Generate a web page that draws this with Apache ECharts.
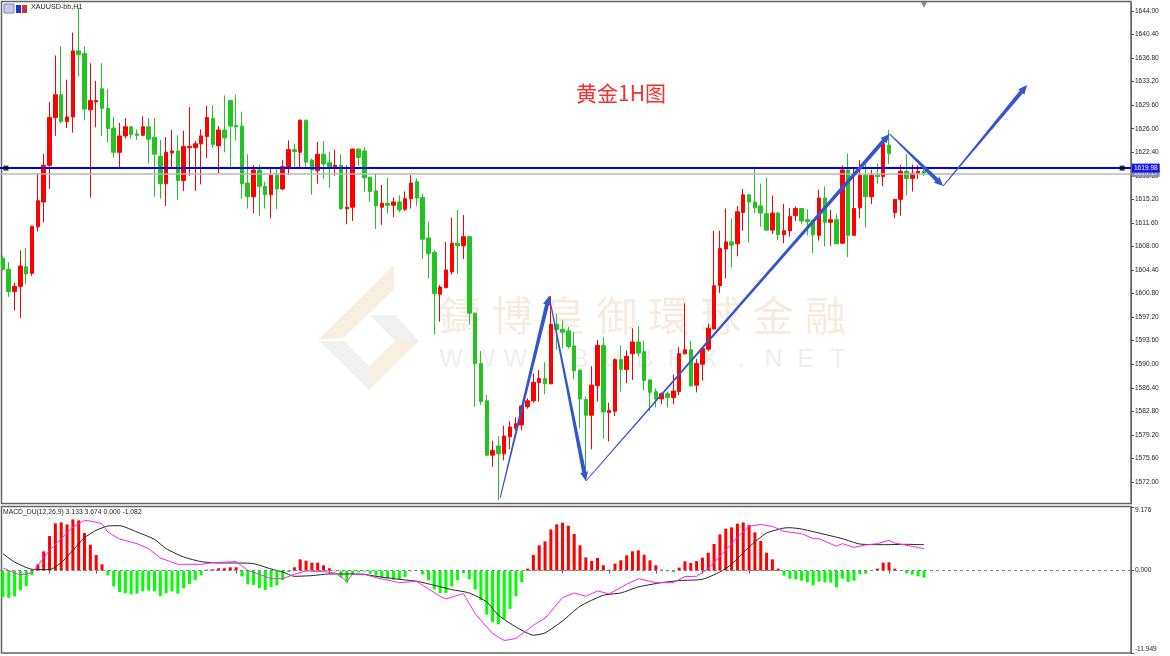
<!DOCTYPE html>
<html>
<head>
<meta charset="utf-8">
<title>XAUUSD H1</title>
<script src="https://cdn.jsdelivr.net/npm/echarts@6/dist/echarts.min.js"></script>
<style>
html, body { margin: 0; padding: 0; background: #fff; }
#chart { width: 1170px; height: 656px; }
</style>
</head>
<body>
<div id="chart"></div>
<script>
// [open, close, low, high]
var candles = [
  [1606.2,1604.5,1604.3,1606.6],[1604.5,1601.1,1600.3,1605.6],[1601.1,1601.9,1598.2,1602.4],[1601.9,1605.0,1597.1,1607.4],
  [1604.9,1603.8,1602.3,1607.8],[1603.9,1611.1,1603.5,1611.1],[1611.0,1615.0,1610.3,1619.2],[1614.8,1620.4,1611.7,1622.1],
  [1620.4,1627.7,1616.8,1630.1],[1627.7,1631.2,1624.9,1637.2],[1631.2,1627.1,1626.8,1638.6],[1627.1,1627.8,1626.1,1633.5],
  [1627.8,1637.9,1625.4,1640.7],[1637.9,1637.3,1634.0,1644.5],[1637.5,1629.0,1627.3,1638.6],[1628.9,1630.3,1615.5,1636.0],
  [1630.1,1630.3,1626.2,1633.3],[1632.1,1629.1,1624.9,1636.0],[1629.1,1626.0,1623.9,1632.1],[1626.1,1622.4,1621.6,1627.8],
  [1622.4,1624.9,1620.1,1626.9],[1624.9,1626.3,1624.5,1627.6],[1626.3,1625.1,1624.5,1626.3],[1625.2,1625.0,1624.3,1625.9],
  [1625.0,1626.3,1624.9,1627.9],[1626.3,1624.4,1620.7,1627.6],[1624.7,1622.1,1615.6,1627.6],[1621.8,1617.6,1615.3,1624.3],
  [1617.6,1622.4,1614.2,1624.7],[1622.3,1622.6,1620.1,1625.8],[1622.6,1618.1,1615.1,1625.0],[1618.1,1623.3,1616.5,1625.7],
  [1623.1,1623.3,1618.8,1629.3],[1623.1,1623.7,1616.5,1624.1],[1623.7,1624.9,1617.5,1625.9],[1624.8,1627.7,1621.5,1629.5],
  [1627.6,1623.6,1623.1,1629.6],[1623.4,1625.8,1619.2,1626.4],[1625.8,1624.6,1622.4,1631.1],[1630.3,1626.4,1620.1,1630.4],
  [1626.5,1626.3,1624.2,1631.2],[1626.4,1617.6,1615.3,1628.6],[1617.7,1615.6,1613.8,1622.1],[1615.6,1619.7,1613.1,1620.4],
  [1619.7,1617.2,1612.7,1620.5],[1617.2,1615.9,1613.8,1617.9],[1615.9,1618.9,1612.3,1620.0],[1618.9,1616.8,1613.7,1619.8],
  [1616.8,1620.2,1616.6,1621.2],[1620.1,1622.8,1618.9,1624.2],[1622.8,1622.5,1620.1,1623.7],[1622.4,1627.3,1620.1,1627.4],
  [1627.3,1620.9,1620.1,1627.4],[1621.2,1619.7,1615.9,1621.4],[1619.6,1622.1,1617.6,1624.0],[1622.1,1620.6,1618.3,1624.1],
  [1620.8,1620.1,1617.0,1622.5],[1620.1,1620.4,1618.8,1622.8],[1620.4,1613.8,1613.6,1622.1],[1613.8,1614.0,1611.4,1620.4],
  [1614.0,1622.9,1611.9,1622.9],[1622.9,1621.6,1620.3,1622.9],[1622.6,1618.5,1616.4,1623.2],[1618.6,1616.4,1614.8,1618.7],
  [1616.5,1614.2,1610.7,1619.1],[1614.0,1614.6,1611.3,1617.4],[1614.6,1614.3,1613.0,1618.5],[1614.3,1614.8,1612.5,1615.5],
  [1614.8,1613.6,1613.2,1615.8],[1613.7,1615.3,1613.4,1616.4],[1615.3,1617.7,1613.8,1618.9],[1617.9,1615.4,1614.2,1618.4],
  [1615.5,1609.1,1606.1,1616.1],[1609.3,1606.9,1603.1,1611.8],[1607.1,1600.8,1594.6,1607.4],[1600.7,1601.8,1596.5,1602.1],
  [1601.7,1604.4,1601.6,1608.7],[1604.1,1608.5,1603.7,1612.4],[1608.5,1608.1,1603.8,1613.6],[1608.1,1609.5,1606.1,1612.8],
  [1609.5,1597.8,1596.1,1609.5],[1597.8,1590.1,1583.5,1597.9],[1590.1,1584.3,1583.8,1592.0],[1584.4,1576.1,1575.9,1585.3],
  [1576.1,1576.8,1574.3,1578.3],[1577.5,1576.3,1569.2,1579.0],[1576.3,1579.0,1575.3,1580.6],[1578.9,1580.4,1577.0,1581.3],
  [1580.2,1580.9,1579.9,1581.9],[1580.7,1583.6,1579.9,1583.8],[1583.5,1584.4,1583.2,1584.8],[1584.4,1587.2,1584.1,1588.6],
  [1587.2,1587.8,1584.3,1589.1],[1587.8,1587.0,1585.4,1590.3],[1587.0,1596.1,1587.0,1600.4],[1596.1,1595.3,1592.2,1597.7],
  [1595.3,1594.9,1592.4,1596.7],[1595.1,1592.7,1592.4,1595.7],[1592.8,1589.0,1587.7,1594.9],[1589.1,1584.7,1580.2,1589.1],
  [1584.6,1582.2,1572.6,1585.1],[1582.2,1586.8,1577.0,1589.7],[1586.7,1592.9,1584.3,1593.7],[1592.9,1582.7,1578.6,1594.2],
  [1582.6,1582.9,1578.2,1584.1],[1582.8,1590.7,1582.1,1590.9],[1590.7,1589.2,1585.8,1592.9],[1589.2,1591.2,1587.1,1592.1],
  [1591.6,1593.4,1587.6,1595.5],[1593.4,1591.7,1591.2,1595.8],[1591.9,1587.5,1586.0,1593.6],[1587.6,1585.7,1582.8,1587.7],
  [1585.8,1584.7,1583.4,1586.3],[1584.7,1585.5,1583.9,1585.7],[1585.5,1584.9,1583.4,1585.8],[1584.9,1585.9,1583.9,1588.4],
  [1585.8,1591.6,1585.3,1592.6],[1591.6,1592.2,1591.5,1599.3],[1592.2,1586.7,1586.6,1593.6],[1586.8,1590.1,1585.7,1590.8],
  [1590.0,1592.4,1587.5,1592.7],[1592.3,1595.5,1592.0,1596.2],[1595.4,1602.0,1595.3,1610.4],[1602.0,1607.7,1600.9,1610.4],
  [1607.6,1608.7,1603.1,1613.8],[1608.7,1608.2,1604.8,1612.3],[1608.4,1613.3,1606.5,1614.2],[1613.2,1615.9,1610.4,1616.8],
  [1615.9,1614.8,1608.6,1615.9],[1614.8,1613.9,1613.1,1620.2],[1614.2,1613.1,1611.0,1617.6],[1613.0,1610.5,1610.4,1618.5],
  [1610.5,1613.1,1609.9,1615.8],[1613.1,1609.8,1609.0,1613.3],[1609.8,1610.4,1608.5,1614.5],[1610.4,1612.6,1609.5,1613.9],
  [1612.7,1613.8,1611.9,1614.1],[1613.8,1611.9,1611.4,1613.8],[1612.1,1611.8,1609.7,1613.7],[1612.0,1609.8,1607.0,1612.0],
  [1609.7,1615.4,1608.9,1616.7],[1615.4,1611.7,1608.0,1617.2],[1611.7,1612.1,1608.1,1613.6],[1612.1,1608.4,1608.4,1613.0],
  [1608.5,1619.7,1608.4,1620.4],[1619.7,1609.7,1606.4,1622.2],[1609.7,1613.8,1609.6,1620.1],[1613.9,1618.9,1612.3,1621.2],
  [1618.9,1615.6,1610.9,1620.6],[1615.6,1618.9,1614.5,1619.7],[1618.9,1618.7,1617.6,1620.7],[1618.7,1623.7,1617.2,1623.9],
  [1623.5,1622.2,1620.6,1625.8],[1613.2,1615.2,1612.3,1615.2],[1615.2,1619.5,1612.7,1620.5],[1619.5,1618.4,1615.8,1622.1],
  [1618.4,1619.2,1616.4,1620.5],[1619.2,1619.5,1618.3,1620.4],[1619.5,1619.1,1618.8,1619.8]
];

var macdHist = [
  -3.84,-3.94,-3.70,-2.83,-2.26,-0.67,0.91,2.78,4.99,6.82,6.96,6.67,7.39,7.25,5.42,3.74,2.26,0.91,-0.67,-2.26,
  -3.07,-3.26,-3.41,-3.31,-2.98,-2.88,-2.98,-3.65,-3.22,-2.98,-3.31,-2.54,-1.92,-1.34,-0.67,0.14,0.19,0.34,0.34,0.48,
  0.48,-0.82,-1.97,-2.06,-2.50,-2.78,-2.35,-2.11,-1.39,-0.19,0.48,1.63,1.44,1.15,1.15,0.77,0.34,-0.10,-0.96,-1.73,
  -0.62,-0.24,-0.14,-0.43,-0.72,-1.01,-1.15,-1.30,-1.30,-0.91,-0.10,-0.05,-0.53,-1.39,-2.69,-3.26,-3.22,-2.26,-1.39,-0.38,
  -1.25,-2.74,-4.27,-6.34,-7.44,-7.73,-7.01,-5.52,-3.70,-1.68,0.29,2.26,3.65,4.22,5.95,6.67,6.91,6.48,5.28,3.65,
  1.92,1.39,1.82,0.77,0.14,1.01,1.49,2.21,2.78,2.93,2.30,1.49,0.77,0.14,-0.10,-0.24,0.43,1.34,1.10,1.39,
  1.87,2.59,3.84,5.23,6.05,6.24,6.77,6.96,6.58,5.52,4.27,2.59,1.63,0.29,-0.72,-1.15,-1.25,-1.44,-1.68,-2.11,
  -1.58,-1.68,-1.73,-2.40,-1.15,-1.63,-1.44,-0.53,-0.43,-0.05,0.29,1.15,1.20,0.29,0,-0.38,-0.58,-0.82,-1.01
];

// [bar index, value] readings along the two MACD lines
var signalLine = [
  [0,2.45],[2,1.25],[5,0.19],[8,0.14],[10,1.15],[12,2.93],[14,4.75],[16,5.81],[18,6.43],[20,6.48],[23,5.57],[26,4.51],[28,3.17],
  [31,1.97],[34,1.30],[37,1.10],[40,1.10],[43,1.01],[46,0.24],[48,-0.19],[50,-0.82],[53,-0.72],[56,-0.48],[59,-0.48],[62,-0.53],
  [64,-0.82],[68,-1.25],[71,-1.54],[74,-2.11],[77,-2.74],[80,-3.22],[83,-4.51],[85,-6.43],[88,-8.11],[91,-9.31],[93,-8.98],
  [96,-7.25],[99,-5.14],[103,-3.55],[106,-3.22],[109,-2.35],[113,-1.73],[116,-1.44],[120,-1.25],[123,-0.19],[125,0.91],[128,3.41],
  [131,5.42],[134,6.14],[135,6.19],[137,6.00],[140,5.42],[144,4.61],[147,3.84],[151,3.74],[155,3.79],[158,3.74]
];
var macdLine = [
  [0,0.38],[2,-0.34],[3,-0.62],[5,-0.29],[6,0.77],[8,2.93],[10,4.61],[12,6.29],[14,7.25],[15,7.15],[17,6.77],[18,5.57],[20,4.56],
  [23,3.89],[25,3.17],[27,1.82],[30,0.91],[34,0.91],[36,1.15],[40,1.30],[42,0.05],[44,-0.53],[46,-1.15],[48,-1.15],[50,-0.53],
  [52,-0.05],[55,-0.14],[57,-0.34],[59,-1.54],[60,-0.53],[62,-0.53],[64,-1.01],[68,-1.73],[71,-1.54],[72,-2.11],[75,-3.70],[76,-4.08],
  [79,-3.31],[81,-6.19],[84,-9.07],[86,-10.08],[88,-9.79],[91,-7.87],[93,-6.86],[96,-3.89],[98,-3.22],[100,-3.70],[102,-2.93],[104,-3.36],
  [107,-1.97],[109,-1.15],[112,-1.73],[115,-1.73],[117,-0.86],[119,-0.82],[121,0.29],[124,2.93],[126,4.85],[128,6.38],[130,6.67],[132,6.38],
  [134,5.66],[137,5.33],[139,4.61],[140,4.61],[143,3.50],[144,3.89],[146,3.36],[148,3.70],[150,3.89],[152,4.37],[153,3.98],[156,3.50],[158,3.17]
];

// hand drawn arrows: from bar, from price, to bar, to price
var trendArrows = [
  [85.3,1569.55,93.7,1600.43],
  [93.7,1600.43,100.0,1572.15],
  [100.0,1572.15,152.1,1625.2],
  [152.1,1625.2,161.3,1617.24],
  [161.3,1617.24,175.7,1632.69]
];

var priceTicks = [1644,1640.4,1636.8,1633.2,1629.6,1626,1622.4,1618.8,1615.2,1611.6,1608,1604.4,1600.8,1597.2,1593.6,1590,1586.4,1582.8,1579.2,1575.6,1572];
var macdTicks = [9.176,0,-11.949];
var bidPrice = 1619.98;
var askPrice = 1619.17;
var watermarkName = '鑄博皇御環球金融';
var watermarkSite = 'WWW.BUBRX.NET';

var slotCount = 194; // chart leaves empty bars on the right
var categories = [];
for (var i = 0; i < slotCount; i++) {
    categories.push(String(i));
}

var UP = '#ff0000';
var DOWN = '#22c322';
var ARROW = '#3555cf';
var FONT = '"Liberation Sans", Arial, sans-serif';

function renderArrow(params, api) {
    var a = api.coord([api.value(0), api.value(1)]);
    var b = api.coord([api.value(2), api.value(3)]);
    var dx = b[0] - a[0], dy = b[1] - a[1];
    var len = Math.sqrt(dx * dx + dy * dy);
    var ux = dx / len, uy = dy / len;
    var nx = -uy, ny = ux;
    var headLen = 9, headW = 4, w0 = 0.5, w1 = 2;
    var hx = b[0] - ux * headLen, hy = b[1] - uy * headLen;
    return {
        type: 'polygon',
        shape: {
            points: [
                [a[0] + nx * w0, a[1] + ny * w0],
                [hx + nx * w1, hy + ny * w1],
                [hx + nx * headW, hy + ny * headW],
                [b[0], b[1]],
                [hx - nx * headW, hy - ny * headW],
                [hx - nx * w1, hy - ny * w1],
                [a[0] - nx * w0, a[1] - ny * w0]
            ]
        },
        style: { fill: ARROW }
    };
}

var graphics = [
    // watermark logo
    { type: 'polygon', shape: { points: [[394,265],[394,290],[343,338],[318,340]] }, style: { fill: '#f7f0e1' } },
    { type: 'polygon', shape: { points: [[370,315],[395,315],[419,341],[395,341]] }, style: { fill: '#f1f1f1' } },
    { type: 'polygon', shape: { points: [[369,366],[395,341],[419,341],[369,390]] }, style: { fill: '#f7f0e1' } },
    { type: 'polygon', shape: { points: [[319,341],[344,341],[369,366],[369,390]] }, style: { fill: '#f1f1f1' } },
    // pane frames
    { type: 'rect', shape: { x: 1.5, y: 1.5, width: 1129.5, height: 502 }, style: { fill: 'none', stroke: '#666', lineWidth: 1.5 } },
    { type: 'rect', shape: { x: 1.5, y: 506.5, width: 1129.5, height: 146.5 }, style: { fill: 'none', stroke: '#666', lineWidth: 1.5 } },
    // window icons
    { type: 'rect', shape: { x: 4, y: 4, width: 10, height: 9 }, style: { fill: '#c9c6e6', stroke: '#7c86b8', lineWidth: 1 } },
    { type: 'rect', shape: { x: 16, y: 5, width: 5, height: 8 }, style: { fill: '#2233cc' } },
    { type: 'rect', shape: { x: 22, y: 5, width: 5, height: 8 }, style: { fill: '#cc3333' } }
];
// watermark letters are spread out one by one
watermarkName.split('').forEach(function(ch, k) {
    graphics.push({ type: 'text', x: 460 + k * 52.2, y: 315, style: { text: ch, fill: '#f6ebde', font: '41px "Noto Sans CJK TC"', textAlign: 'center', textVerticalAlign: 'middle' } });
});
watermarkSite.split('').forEach(function(ch, k) {
    graphics.push({ type: 'text', x: 451 + k * 32.25, y: 360, style: { text: ch, fill: '#eeeeee', font: '25px "Liberation Sans"', textAlign: 'center', textVerticalAlign: 'middle' } });
});

var myChart = echarts.init(document.getElementById('chart'));
var option = {
    animation: false,
    backgroundColor: '#fff',
    title: [
        { text: '黄金1H图', left: 576, top: 83, padding: 0, textStyle: { color: '#f5302e', fontSize: 21, fontWeight: 'normal', fontFamily: '"Noto Sans CJK SC"' } },
        { text: 'XAUUSD-bb,H1', left: 31, top: 4, padding: 0, textStyle: { color: '#222', fontSize: 7.2, fontWeight: 'normal', fontFamily: FONT } },
        { text: 'MACD_DU(12,26,9) 3.133 3.674 0.000 -1.082', left: 3, top: 509, padding: 0, textStyle: { color: '#222', fontSize: 6.8, fontWeight: 'normal', fontFamily: FONT } }
    ],
    graphic: graphics,
    grid: [
        { left: -2.06, top: 3, width: 1132.96, height: 501 },
        { left: -2.06, top: 507, width: 1132.96, height: 146.5 }
    ],
    xAxis: [
        { type: 'category', gridIndex: 0, data: categories, boundaryGap: true, axisLine: { show: false }, axisTick: { show: false }, axisLabel: { show: false }, splitLine: { show: false } },
        {
            type: 'category', gridIndex: 1, data: categories, boundaryGap: true,
            axisLine: { show: false },
            axisLabel: { show: false },
            axisTick: {
                show: true, length: 3, alignWithLabel: true, lineStyle: { color: '#555' },
                interval: function(index) { return index > 0 && index % 8 === 0 && index <= 152; }
            },
            splitLine: { show: false }
        },
        // same span as the bars, lets the arrows end between two bars
        { type: 'value', gridIndex: 0, min: -0.5, max: slotCount - 0.5, show: false }
    ],
    yAxis: [
        {
            type: 'value', gridIndex: 0, position: 'right', min: 1568.63, max: 1645.22, scale: true,
            axisLine: { show: true, onZero: false, lineStyle: { color: '#666' } },
            axisTick: { show: true, length: 3, customValues: priceTicks, lineStyle: { color: '#444' } },
            axisLabel: {
                customValues: priceTicks, margin: 4, color: '#222', fontSize: 6.6, fontFamily: FONT,
                formatter: function(v) { return Number(v).toFixed(2); }
            },
            splitLine: { show: false }
        },
        {
            type: 'value', gridIndex: 1, position: 'right', min: -11.949, max: 9.176,
            axisLine: { show: true, onZero: false, lineStyle: { color: '#666' } },
            axisTick: { show: true, length: 3, customValues: macdTicks, lineStyle: { color: '#444' } },
            axisLabel: {
                customValues: macdTicks, margin: 4, color: '#222', fontSize: 6.6, fontFamily: FONT,
                formatter: function(v) {
                    var txt = Number(v).toFixed(3);
                    // end labels sit inside the pane height
                    if (v > 0) return '{hi|' + txt + '}';
                    if (v < 0) return '{lo|' + txt + '}';
                    return txt;
                },
                rich: {
                    hi: { color: '#222', fontSize: 6.6, fontFamily: FONT, padding: [6, 0, 0, 0] },
                    lo: { color: '#222', fontSize: 6.6, fontFamily: FONT, padding: [0, 0, 9, 0] }
                }
            },
            splitLine: { show: false }
        }
    ],
    series: [
        {
            name: 'XAUUSD',
            type: 'candlestick',
            xAxisIndex: 0,
            yAxisIndex: 0,
            barWidth: 4,
            data: candles,
            itemStyle: { color: UP, color0: DOWN, borderColor: UP, borderColor0: DOWN, borderWidth: 1 },
            markLine: {
                silent: true,
                symbol: 'none',
                animation: false,
                data: [
                    {
                        yAxis: askPrice,
                        lineStyle: { color: '#b4b9c2', width: 1.5, type: 'solid' },
                        label: { show: true, position: 'end', distance: 1, formatter: askPrice.toFixed(2), color: '#dfe3ea', backgroundColor: '#8a95a8', fontSize: 6.6, fontFamily: FONT, padding: [0, 2] }
                    },
                    {
                        yAxis: bidPrice,
                        lineStyle: { color: '#0000ff', width: 2, type: 'solid' },
                        label: { show: true, position: 'end', distance: 1, formatter: bidPrice.toFixed(2), color: '#fff', backgroundColor: '#1616f0', fontSize: 6.6, fontFamily: FONT, padding: [1, 2] }
                    }
                ]
            }
        },
        {
            name: 'handles',
            type: 'scatter',
            xAxisIndex: 0,
            yAxisIndex: 0,
            symbol: 'rect',
            symbolSize: [5, 5],
            itemStyle: { color: '#000' },
            z: 6,
            data: [
                { value: [0, bidPrice], symbolOffset: [3, 0] },
                { value: [192, bidPrice] }
            ]
        },
        {
            name: 'marker',
            type: 'scatter',
            xAxisIndex: 0,
            yAxisIndex: 0,
            symbol: 'triangle',
            symbolRotate: 180,
            symbolSize: 7,
            itemStyle: { color: '#5b7390' },
            data: [[158, 1645]]
        },
        {
            name: 'arrows',
            type: 'custom',
            xAxisIndex: 2,
            yAxisIndex: 0,
            renderItem: renderArrow,
            encode: { x: [0, 2], y: [1, 3] },
            data: trendArrows,
            silent: true,
            z: 5
        },
        {
            name: 'hist',
            type: 'bar',
            xAxisIndex: 1,
            yAxisIndex: 1,
            barWidth: 3,
            data: macdHist.map(function(v) {
                return { value: v, itemStyle: { color: v >= 0 ? '#ff0000' : '#00ff00' } };
            }),
            markLine: {
                silent: true,
                symbol: 'none',
                animation: false,
                label: { show: false },
                lineStyle: { color: '#6f8499', width: 1, type: [3, 3] },
                data: [{ yAxis: 0 }]
            }
        },
        {
            name: 'signal',
            type: 'line',
            xAxisIndex: 1,
            yAxisIndex: 1,
            showSymbol: false,
            smooth: 0.2,
            data: signalLine,
            lineStyle: { color: '#222', width: 1 },
            z: 4
        },
        {
            name: 'macd',
            type: 'line',
            xAxisIndex: 1,
            yAxisIndex: 1,
            showSymbol: false,
            data: macdLine,
            lineStyle: { color: '#ff22ee', width: 1 },
            z: 4
        }
    ]
};
option && myChart.setOption(option);
</script>
</body>
</html>
